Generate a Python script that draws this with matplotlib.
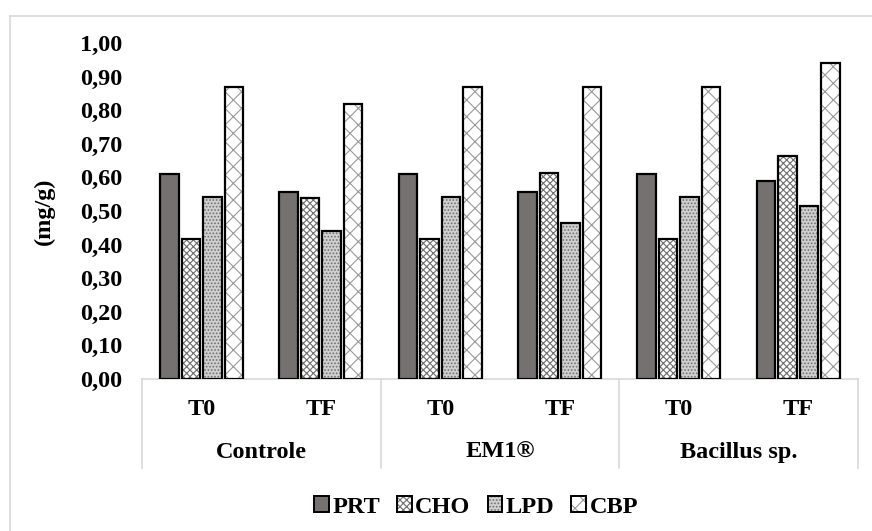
import matplotlib
matplotlib.use("Agg")
import matplotlib.pyplot as plt
import numpy as np
from matplotlib.patches import Patch
from matplotlib.legend_handler import HandlerTuple
from matplotlib.lines import Line2D

# data
groups = ['Controle', 'EM1®', 'Bacillus sp.']
times = ['T0', 'TF']
series = ['PRT', 'CHO', 'LPD', 'CBP']
prt = [0.61, 0.557, 0.61, 0.557, 0.61, 0.589]
cho = [0.417, 0.539, 0.417, 0.612, 0.417, 0.665]
lpd = [0.542, 0.44, 0.542, 0.464, 0.542, 0.515]
cbp = [0.87, 0.818, 0.87, 0.87, 0.87, 0.941]
yticks = np.arange(0, 1.01, 0.1)

plt.rcParams['font.family'] = ['Liberation Serif', 'DejaVu Serif']
plt.rcParams['font.weight'] = 'bold'
plt.rcParams['hatch.linewidth'] = 0.8

fs = 17.5
fig = plt.figure(figsize=(8.72, 5.31), dpi=100)
ax = fig.add_axes([0.1628, 0.2863, 0.8211, 0.6328])

# style per series: face, hatch, hatch colour
styles = [
    ('#767171', None, '#767171'),
    ('white', 'xxxxx', '#6e6e6e'),
    ('#d0d0d0', '.....', '#707070'),
    ('white', 'xx', '#999999'),
]

x = np.arange(len(groups) * len(times))
pitch = 0.18
width = 0.155
handles = []
for i, (vals, (fc, hatch, hc)) in enumerate(zip([prt, cho, lpd, cbp], styles)):
    pos = x + (i - 1.5) * pitch
    ax.bar(pos, vals, width, color=fc, hatch=hatch, edgecolor=hc, linewidth=0, zorder=2)
    ax.bar(pos, vals, width, facecolor='none', edgecolor='black', linewidth=1.6, zorder=3)
    handles.append((Patch(facecolor=fc, hatch=hatch, edgecolor=hc, linewidth=0),
                    Patch(facecolor='none', edgecolor='black', linewidth=1.4)))

ax.set_xlim(-0.5, 5.5)
ax.set_ylim(0, 1.0)
ax.set_yticks(yticks)
ax.set_yticklabels([f'{v:.2f}'.replace('.', ',') for v in yticks], fontsize=fs, fontweight='bold')
ax.tick_params(axis='y', length=0, pad=14)
ax.set_xticks([])
for s in ['top', 'right', 'left']:
    ax.spines[s].set_visible(False)
ax.spines['bottom'].set_color('#d9d9d9')
ax.spines['bottom'].set_linewidth(1.2)

ax.set_ylabel('(mg/g)', fontsize=fs, fontweight='bold', labelpad=18)

# two-level category axis
trans = ax.get_xaxis_transform()
for k in range(len(groups)):
    for j, t in enumerate(times):
        ax.text(2 * k + j, -0.09, t, transform=trans, ha='center', va='center',
                fontsize=fs, fontweight='bold')
    ax.text(2 * k + 0.5, -0.218, groups[k], transform=trans, ha='center', va='center',
            fontsize=fs, fontweight='bold')
for b in [-0.5, 1.5, 3.5, 5.5]:
    ax.add_line(Line2D([b, b], [0, -0.265], transform=trans, color='#d9d9d9',
                       linewidth=1.2, clip_on=False))

# chart area frame
fig.add_artist(Line2D([10 / 872, 10 / 872], [0, 1 - 16 / 531], color='#d9d9d9', linewidth=1.2))
fig.add_artist(Line2D([10 / 872, 1], [1 - 16 / 531, 1 - 16 / 531], color='#d9d9d9', linewidth=1.2))

fig.legend(handles, series, handler_map={tuple: HandlerTuple(ndivide=1, pad=0)},
           loc='center', bbox_to_anchor=(0.546, 0.045), ncol=4, frameon=False,
           prop={'size': fs, 'weight': 'bold'}, handlelength=0.6, handleheight=0.6,
           handletextpad=0.15, columnspacing=0.7)

fig.savefig('out.png', dpi=100)
